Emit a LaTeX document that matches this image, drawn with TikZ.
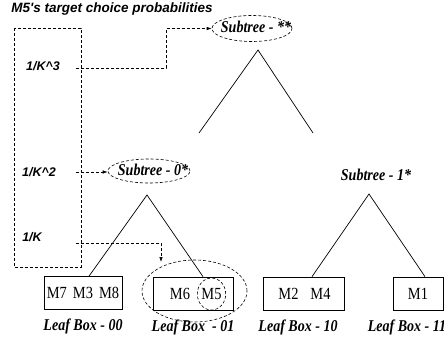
\documentclass[tikz,border=0pt]{standalone}
\usepackage{fontspec}
\setmainfont{Liberation Serif}
\newfontfamily\probfont{Liberation Sans}
\newfontfamily\narrowfont[FakeStretch=0.85]{Liberation Serif}
\usetikzlibrary{positioning}
\usetikzlibrary{arrows.meta}
\usetikzlibrary{shapes}

\tikzset{
    leafbox/.style={draw, line width=0.7pt, minimum height=33pt, inner sep=2pt, font=\fontsize{17}{17}\narrowfont},
    boxtext/.style={inner sep=0pt, font=\fontsize{17}{17}\narrowfont},
    leaflabel/.style={inner sep=0pt, font=\fontsize{16.5}{17}\narrowfont\bfseries\itshape},
    subtreelabel/.style={inner sep=0pt, font=\fontsize{16.5}{17}\narrowfont\bfseries\itshape},
    ring/.style={draw, ellipse, dash pattern=on 3pt off 2pt, line width=0.6pt, inner sep=0pt},
    problabel/.style={inner sep=0pt, font=\fontsize{12.5}{13}\selectfont\probfont\bfseries\itshape},
    probline/.style={dash pattern=on 3pt off 2pt, line width=0.6pt},
    probarrow/.style={probline, -{Latex[length=5pt,width=3.5pt]}},
    branch/.style={line width=0.7pt},
}

\begin{document}
\begin{tikzpicture}[x=1pt,y=-1pt]
    \useasboundingbox (0,0) rectangle (444,347);
    \node[problabel, font=\fontsize{13.5}{14}\selectfont\probfont\bfseries\itshape] (title) at (112,9) {M5's target choice probabilities};
    \node[problabel] (k3) at (43,66) {1/K\textasciicircum 3};
    \node[problabel] (k2) at (39,172) {1/K\textasciicircum 2};
    \node[problabel] (k1) at (32,237) {1/K};
    \coordinate (k3out) at (76,68);
    \coordinate (k3turn) at (166,68);
    \coordinate (k2out) at (76,172);
    \coordinate (k1out) at (76,243);
    \coordinate (k1tip) at (161,262);
    \node[ring, minimum width=80pt, minimum height=26pt] (subring) at (252,28.5) {};
    \node[subtreelabel] (sub) at (256,27) {Subtree - **};
    \node[ring, minimum width=82pt, minimum height=24pt] (sub0ring) at (149,171) {};
    \node[subtreelabel] (sub0) at (153,170) {Subtree - 0*};
    \node[subtreelabel] (sub1) at (376,175) {Subtree - 1*};
    \coordinate (apex) at (258,50);
    \coordinate (apexl) at (199,133);
    \coordinate (apexr) at (313,133);
    \coordinate (apex0) at (147,195);
    \coordinate (apex1) at (369,194);
    \node[leafbox, minimum width=78pt] (box00) at (83,293) {M7\hspace{6pt}M3\hspace{6pt}M8};
    \node[leafbox, minimum width=80pt] (box01) at (193,293.5) {};
    \node[boxtext] (m6) at (180,294) {M6};
    \node[ring, minimum width=27pt, minimum height=32pt, font=\fontsize{17}{17}\narrowfont] (m5) at (211.5,294) {M5};
    \node[ring, minimum width=105pt, minimum height=62pt] (grp01) at (194.5,291) {};
    \node[leafbox, minimum width=81pt] (box10) at (303.5,293.5) {\hspace{2pt}M2\hspace{12pt}M4};
    \node[leafbox, minimum width=50pt] (box11) at (418,293.5) {M1};
    \node[leaflabel, below=9pt of box00] (lab00) {Leaf Box - 00};
    \node[leaflabel, below=9pt of box01] (lab01) {Leaf Box \ - 01};
    \node[leaflabel, below=9pt of box10, xshift=-5.5pt] (lab10) {Leaf Box - 10};
    \node[leaflabel, below=9pt of box11, xshift=-11pt] (lab11) {Leaf Box - 11};
    \draw[probline] (14,28) rectangle (81,267);
    \draw[probarrow] (k3out) -- (k3turn) |- (subring);
    \draw[probarrow] (k2out) -- (k2out -| sub0ring.west);
    \draw[probarrow] (k1out) -| (k1tip);
    \draw[branch] (apexl) -- (apex) -- (apexr);
    \draw[branch] ([xshift=6pt]box00.north) -- (apex0) -- ([xshift=10pt]box01.north);
    \draw[branch] ([xshift=8.5pt]box10.north) -- (apex1) -- ([xshift=7pt]box11.north);
\end{tikzpicture}
\end{document}
